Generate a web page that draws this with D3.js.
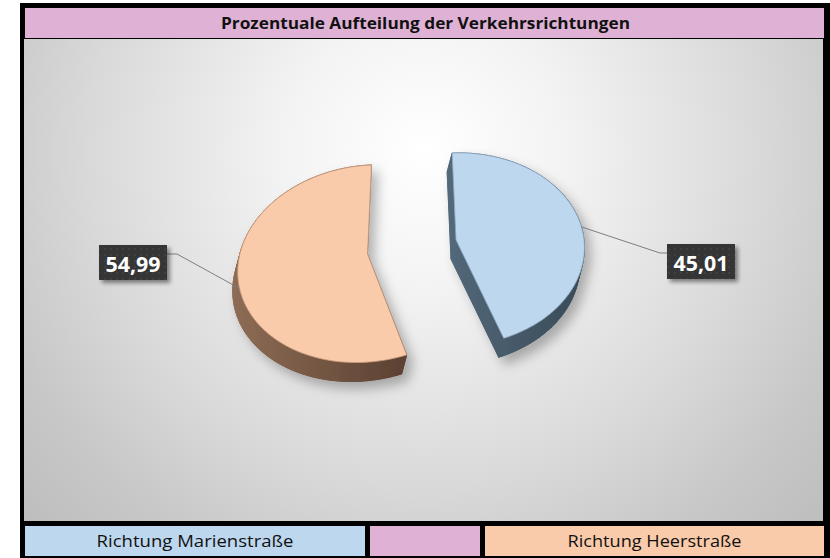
<!DOCTYPE html>
<html><head><meta charset="utf-8">
<script src="https://cdn.jsdelivr.net/npm/d3@7/dist/d3.min.js"></script>
<style>html,body{margin:0;padding:0;background:#fff;}svg{display:block;}</style>
</head><body>
<script>
// ---- data ----
const title = "Prozentuale Aufteilung der Verkehrsrichtungen";
const categories = ["Richtung Marienstraße", "Richtung Heerstraße"];
const values = [45.01, 54.99];
const valueLabels = ["45,01", "54,99"];

// ---- styles / layout ----
const topColors = ["#BDD7EE", "#F9CBAA"];
const strokeColors = ["#8faac2", "#c99a7c"];
const sideA = ["#53687a", "#8d6c55"];
const sideB = ["#3a4b58", "#5c4233"];
const W = 830, H = 558;
const P = {cx: 412, cy: 247, A: 128, C: -5, D: 96.6, k: 0.097};
const explode = 0.35;
const depth = [-5, 19];
const leaderShift = [0.07, -0.14]; // radians, where the leader meets the slice edge
const labelPos = [{x: 667, y: 244, elbowX: 660, ly: 253}, {x: 99, y: 245, elbowX: 177, ly: 254}];
const boxW = 68, boxH = 35;

const svg = d3.select("body").append("svg").attr("width", W).attr("height", H);
const defs = svg.append("defs");

const bg = defs.append("radialGradient").attr("id", "bg").attr("gradientUnits", "userSpaceOnUse")
  .attr("cx", 424).attr("cy", 150).attr("r", 560);
[[0, "#ffffff"], [0.25, "#f3f3f3"], [0.6, "#d9d9d9"], [0.8, "#c8c8c8"], [1, "#bcbcbc"]]
  .forEach(([o, c]) => bg.append("stop").attr("offset", o).attr("stop-color", c));

const sh = defs.append("filter").attr("id", "pieShadow").attr("x", "-20%").attr("y", "-20%").attr("width", "140%").attr("height", "140%");
sh.append("feDropShadow").attr("dx", 6).attr("dy", 7).attr("stdDeviation", 6).attr("flood-color", "#000").attr("flood-opacity", 0.28);
const sh2 = defs.append("filter").attr("id", "boxShadow").attr("x", "-20%").attr("y", "-20%").attr("width", "150%").attr("height", "150%");
sh2.append("feDropShadow").attr("dx", 3).attr("dy", 3).attr("stdDeviation", 2).attr("flood-color", "#000").attr("flood-opacity", 0.45);
const pat = defs.append("pattern").attr("id", "dots").attr("width", 6).attr("height", 6).attr("patternUnits", "userSpaceOnUse");
pat.append("rect").attr("width", 6).attr("height", 6).attr("fill", "#353535");
pat.append("circle").attr("cx", 3).attr("cy", 3).attr("r", 0.8).attr("fill", "#4c4c4c");

// frame
svg.append("rect").attr("x", 20).attr("y", 3).attr("width", 810).attr("height", 555).attr("fill", "#000");
svg.append("rect").attr("x", 25).attr("y", 8).attr("width", 799).attr("height", 30).attr("fill", "#DFB2D5");
svg.append("text").attr("x", 425.5).attr("y", 28.5).attr("text-anchor", "middle")
  .attr("font-family", "Open Sans").attr("font-weight", "bold").attr("font-size", 15.5)
  .attr("textLength", 409).attr("lengthAdjust", "spacingAndGlyphs").attr("fill", "#111").text(title);
svg.append("rect").attr("x", 24).attr("y", 39).attr("width", 799).attr("height", 482).attr("fill", "url(#bg)");

// legend row
const legendCells = [
  {x: 25, w: 340, fill: topColors[0], text: categories[0], tl: 197},
  {x: 370, w: 110, fill: "#DFB2D5", text: "", tl: 0},
  {x: 485, w: 339, fill: topColors[1], text: categories[1], tl: 174}
];
const lg = svg.append("g").selectAll("g").data(legendCells).join("g");
lg.append("rect").attr("x", d => d.x).attr("y", 526).attr("width", d => d.w).attr("height", 30).attr("fill", d => d.fill);
lg.filter(d => d.text).append("text").attr("x", d => d.x + d.w / 2).attr("y", 547).attr("text-anchor", "middle")
  .attr("font-family", "Open Sans").attr("font-size", 15.5).attr("fill", "#111")
  .attr("textLength", d => d.tl).attr("lengthAdjust", "spacingAndGlyphs").text(d => d.text);

// ---- 3D pie ----
function proj(s, t) { const w = 1 - P.k * t; return [P.cx + P.A * s / w, P.cy + (P.C * s + P.D * t) / w]; }
const pie = d3.pie().sort(null).value(d => d)(values);
const line = d3.line().x(d => d[0]).y(d => d[1]);

[1, 0].forEach(i => {
  const d = pie[i];
  const mid = (d.startAngle + d.endAngle) / 2;
  const ox = explode * Math.sin(mid), oy = -explode * Math.cos(mid);
  const n = 90;
  const pts = [[ox, oy]];
  for (let j = 0; j <= n; j++) {
    const a = d.startAngle + (d.endAngle - d.startAngle) * j / n;
    pts.push([ox + Math.sin(a), oy - Math.cos(a)]);
  }
  const top = pts.map(p => proj(p[0], p[1]));
  const bot = top.map(p => [p[0] + depth[0], p[1] + depth[1]]);
  const xs = d3.extent(bot, p => p[0]);
  const gr = defs.append("linearGradient").attr("id", "side" + i).attr("gradientUnits", "userSpaceOnUse")
    .attr("x1", xs[0]).attr("x2", xs[1]).attr("y1", 0).attr("y2", 0);
  gr.append("stop").attr("offset", 0).attr("stop-color", sideA[i]);
  gr.append("stop").attr("offset", 1).attr("stop-color", sideB[i]);

  const g = svg.append("g").attr("filter", "url(#pieShadow)");
  const side = g.append("g").attr("fill", `url(#side${i})`).attr("stroke", `url(#side${i})`).attr("stroke-width", 0.8);
  side.append("path").attr("d", line(bot) + "Z");
  for (let j = 0; j < top.length; j++) {
    const k = (j + 1) % top.length;
    side.append("path").attr("d", line([top[j], top[k], bot[k], bot[j]]) + "Z");
  }
  g.append("path").attr("d", line(top) + "Z").attr("fill", topColors[i])
    .attr("stroke", strokeColors[i]).attr("stroke-width", 0.8);

  // leader + label
  const la = mid + leaderShift[i];
  const att = proj(ox + Math.sin(la), oy - Math.cos(la));
  const L = labelPos[i];
  const edgeX = i === 0 ? L.x : L.x + boxW;
  svg.append("path").attr("d", line([att, [L.elbowX, L.ly], [edgeX, L.ly]]))
    .attr("fill", "none").attr("stroke", "#7f7f7f").attr("stroke-width", 1);
  svg.append("rect").attr("x", L.x).attr("y", L.y).attr("width", boxW).attr("height", boxH)
    .attr("fill", "url(#dots)").attr("filter", "url(#boxShadow)");
  svg.append("text").attr("x", L.x + boxW / 2).attr("y", L.y + 27).attr("text-anchor", "middle")
    .attr("font-family", "Open Sans").attr("font-weight", "bold").attr("font-size", 21)
    .attr("textLength", 55).attr("lengthAdjust", "spacingAndGlyphs")
    .attr("fill", "#fff").text(valueLabels[i]);
});
</script>
</body></html>
